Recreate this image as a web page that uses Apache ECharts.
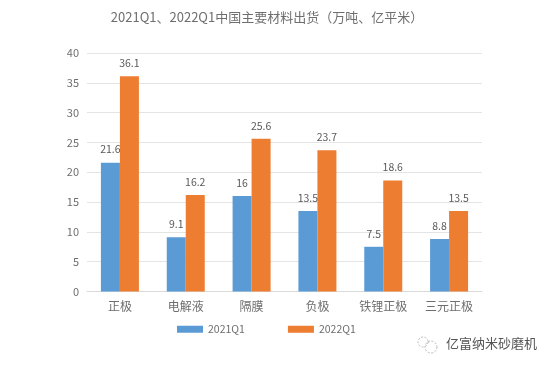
<!DOCTYPE html>
<html><head><meta charset="utf-8">
<style>html,body{margin:0;padding:0;background:#fff}#c{width:554px;height:370px}</style>
<script src="https://cdn.jsdelivr.net/npm/echarts@6/dist/echarts.min.js"></script>
</head><body><div id="c"></div>
<script>
const categories = ['正极','电解液','隔膜','负极','铁锂正极','三元正极'];
const s2021 = [21.6,9.1,16,13.5,7.5,8.8];
const s2022 = [36.1,16.2,25.6,23.7,18.6,13.5];
const yTicks = {min:0,max:40,interval:5};
const font = '"Noto Sans CJK SC","Liberation Sans",sans-serif';
const chart = echarts.init(document.getElementById('c'),null,{renderer:'canvas'});
const lbl = {show:true,position:'top',distance:8,color:'#595959',fontSize:10.5,fontFamily:font};
chart.setOption({
 animation:false,
 backgroundColor:'#fff',
 title:{text:'2021Q1、2022Q1中国主要材料出货（万吨、亿平米）',top:11,padding:0,textAlign:'center',left:267,
  textStyle:{color:'#6e6e6e',fontSize:13,fontWeight:'normal',fontFamily:font}},
 legend:{top:319,left:172,itemWidth:26,itemHeight:7,itemGap:43,icon:'rect',
  textStyle:{color:'#6e6e6e',fontSize:10.5,fontFamily:font},data:['2021Q1','2022Q1']},
 grid:{left:87,right:72,top:53,bottom:78.5},
 xAxis:{type:'category',data:categories,axisTick:{show:false},
  axisLine:{lineStyle:{color:'#d9d9d9'}},
  axisLabel:{color:'#6e6e6e',fontSize:12,margin:9,fontFamily:font}},
 yAxis:{type:'value',min:yTicks.min,max:yTicks.max,interval:yTicks.interval,
  axisLine:{show:false},axisTick:{show:false},
  axisLabel:{color:'#6e6e6e',fontSize:11,margin:8,fontFamily:font},
  splitLine:{lineStyle:{color:'#e4e4e4'}}},
 series:[
  {name:'2021Q1',type:'bar',data:s2021,barWidth:19,barGap:0,itemStyle:{color:'#5B9BD5'},label:lbl},
  {name:'2022Q1',type:'bar',data:s2022,barWidth:19,itemStyle:{color:'#ED7D31'},label:lbl}
 ],
 graphic:[
  {type:'circle',shape:{cx:423,cy:342,r:5},style:{fill:'none',stroke:'#bbb',lineWidth:1,lineDash:[2,1.5]}},
  {type:'circle',shape:{cx:431,cy:347,r:6},style:{fill:'none',stroke:'#bbb',lineWidth:1,lineDash:[2,1.5]}},
  {type:'text',style:{x:446,y:337,text:'亿富纳米砂磨机',fill:'#555',fontSize:13,fontFamily:font}}
 ]
});
</script></body></html>
